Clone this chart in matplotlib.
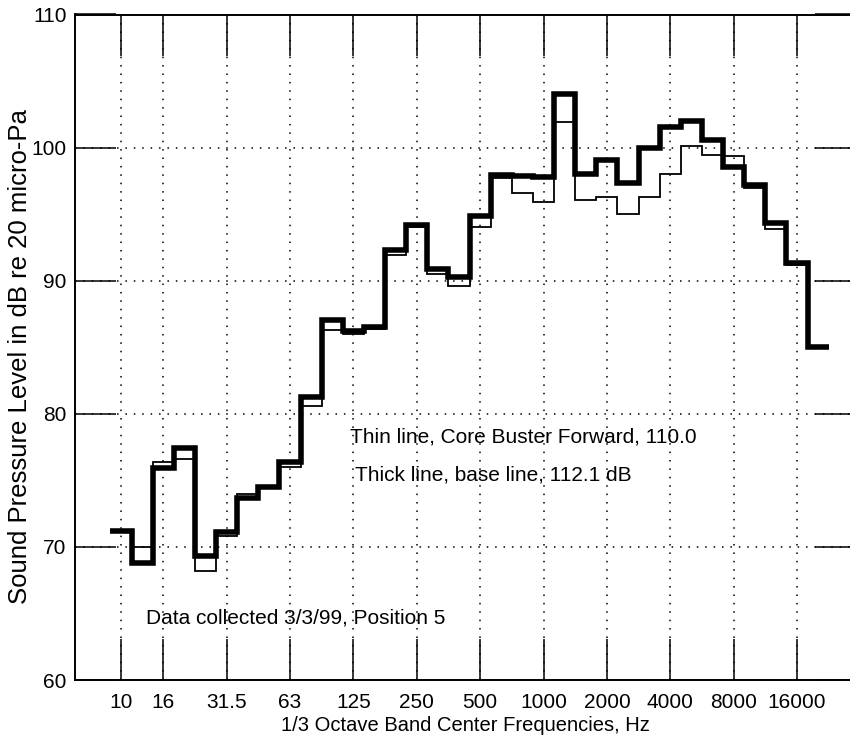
"""
1/3 octave band spectrum, Core Buster Forward vs base line, as stairs.
"""
import numpy as np
import matplotlib
matplotlib.use('Agg')
import matplotlib.pyplot as plt

plt.rcParams['font.family'] = ['Liberation Sans', 'DejaVu Sans']

# 1/3 octave band centres, 10 Hz .. 20 kHz
bands = ['10', '12.5', '16', '20', '25', '31.5', '40', '50', '63', '80',
         '100', '125', '160', '200', '250', '315', '400', '500', '630', '800',
         '1000', '1250', '1600', '2000', '2500', '3150', '4000', '5000', '6300',
         '8000', '10000', '12500', '16000', '20000']

# thick line, base line (112.1 dB)
base_line = [71.2, 68.8, 75.9, 77.45, 69.3, 71.1, 73.7, 74.5, 76.4, 81.25,
             87.05, 86.2, 86.5, 92.3, 94.15, 90.9, 90.3, 94.85, 97.95, 97.9,
             97.8, 104.05, 98.05, 99.1, 97.35, 100.0, 101.55, 102.0, 100.6,
             98.55, 97.2, 94.3, 91.3, 85.0]

# thin line, Core Buster Forward (110.0)
core_buster = [71.1, 70.0, 76.35, 76.6, 68.2, 70.8, 74.0, 74.6, 76.0, 80.6,
               86.3, 86.0, 86.4, 91.9, 94.0, 90.5, 89.6, 94.05, 97.7, 96.6,
               95.9, 101.95, 96.05, 96.3, 95.0, 96.3, 98.05, 100.1, 99.45,
               99.4, 96.95, 93.9, 91.2, 85.0]

tick_labels = ['10', '16', '31.5', '63', '125', '250', '500', '1000', '2000',
               '4000', '8000', '16000']
yticks = [60, 70, 80, 90, 100, 110]

W, H = 850, 738
fig = plt.figure(figsize=(W / 100, H / 100), dpi=100)
# frame: left 75px, right ~856px (cut off by the page), top 14.5px, bottom 680px
ax = fig.add_axes([75 / W, (H - 680) / H, (856 - 75) / W, (680 - 14.5) / H])

edges = np.arange(len(bands) + 1) - 0.5
thin = ax.stairs(core_buster, edges, baseline=None, color='black', lw=1.3)
thick = ax.stairs(base_line, edges, baseline=None, color='black', lw=4.0)
for p in (thin, thick):
    p.set_joinstyle('miter')
    p.set_capstyle('butt')

tick_pos = [bands.index(t) for t in tick_labels]
ax.set_xticks(tick_pos)
ax.set_xticklabels(tick_labels)
ax.set_yticks(yticks)
ax.set_xlim(-2.18, 34.79)
ax.set_ylim(60, 110)

ax.grid(True, color='black', linestyle=(0, (1, 4.5)), linewidth=1.1)
ax.tick_params(direction='in', top=True, right=True, length=29.5, width=1.1,
               labelsize=15)
ax.tick_params(axis='x', pad=9)
ax.tick_params(axis='y', pad=6)
for s in ax.spines.values():
    s.set_linewidth(1.4)

ax.set_xlabel('1/3 Octave Band Center Frequencies, Hz', fontsize=14.5,
              labelpad=3)
# the y label sits a bit below the middle of the frame in the original
fig.text(20 / W, 1 - 357 / H, 'Sound Pressure Level in dB re 20 micro-Pa',
         rotation=90, ha='center', va='center', fontsize=18.5)

ax.text(10.84, 110 - (437 - 14.5) / 13.31,
        'Thin line, Core Buster Forward, 110.0', fontsize=15, va='center')
ax.text(11.08, 110 - (475 - 14.5) / 13.31,
        'Thick line, base line, 112.1 dB', fontsize=15, va='center')
ax.text(1.2, 110 - (618 - 14.5) / 13.31,
        'Data collected 3/3/99, Position 5', fontsize=15, va='center')

fig.savefig('out.png', dpi=100)
